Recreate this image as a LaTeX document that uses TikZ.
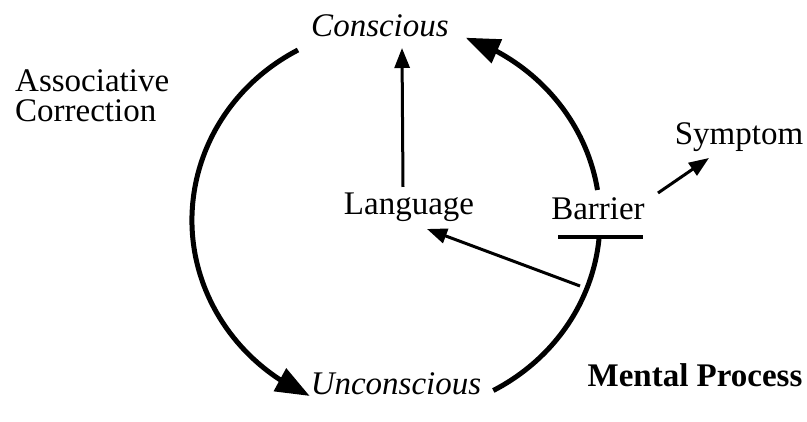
\documentclass[tikz,border=0pt]{standalone}
\usepackage{fontspec}
\setmainfont{Liberation Serif}
\usetikzlibrary{arrows.meta,bending}
\begin{document}
\begin{tikzpicture}[x=1pt,y=1pt,
  lbl/.style={font=\fontsize{33}{30}\selectfont, inner sep=0pt, anchor=base},
  ring/.style={line width=5pt},
  bigtip/.style={ring, -{Triangle[length=34pt,width=25pt,flex]}},
  thinarrow/.style={line width=3pt, -{Triangle[length=20pt,width=15pt]}}]
\useasboundingbox (0,0) rectangle (807,422);
% labels
\node[lbl, font=\fontsize{33}{30}\selectfont\itshape] (con) at (380,385) {Conscious};
\node[lbl, font=\fontsize{33}{30}\selectfont\itshape] (uncon) at (396,27) {Unconscious};
\node[lbl] (lang) at (409,207) {Language};
\node[lbl] (bar) at (598,202) {Barrier};
\node[lbl] (sym) at (739,277) {Symptom};
\node[lbl, font=\fontsize{33}{30}\selectfont\bfseries] (mental) at (695,35) {Mental Process};
\node[lbl, anchor=base west, align=left] (assoc) at (15,300) {Associative\\Correction};
% left arc: Conscious -> Unconscious
\coordinate (lstart) at (298,372);
\draw[bigtip] (lstart) arc[start angle=118.7, end angle=245, x radius=204, y radius=194];
% right lower arc up to the barrier
\coordinate (rstart) at (493.3,31.5);
\draw[ring] (rstart) arc[start angle=-61.5, end angle=-5, x radius=204, y radius=194] coordinate (bfoot);
% barrier bar
\coordinate (barL) at (558,185);
\coordinate (barR) at (643,185);
\draw[line width=4.5pt] (barL) -- (barR);
% right upper arc to Conscious
\coordinate (ustart) at (597.5,232);
\draw[bigtip] (ustart) arc[start angle=8.9, end angle=70, x radius=204, y radius=194];
% straight arrows
\coordinate (lfrom) at (580,136);
\coordinate (lto) at (427,193);
\draw[thinarrow] (lfrom) -- (lto);
\coordinate (vfrom) at (403,235);
\coordinate (vto) at (402,374);
\draw[thinarrow] (vfrom) -- (vto);
\coordinate (sfrom) at (658,229);
\coordinate (sto) at (709,264);
\draw[thinarrow] (sfrom) -- (sto);
\end{tikzpicture}
\end{document}
